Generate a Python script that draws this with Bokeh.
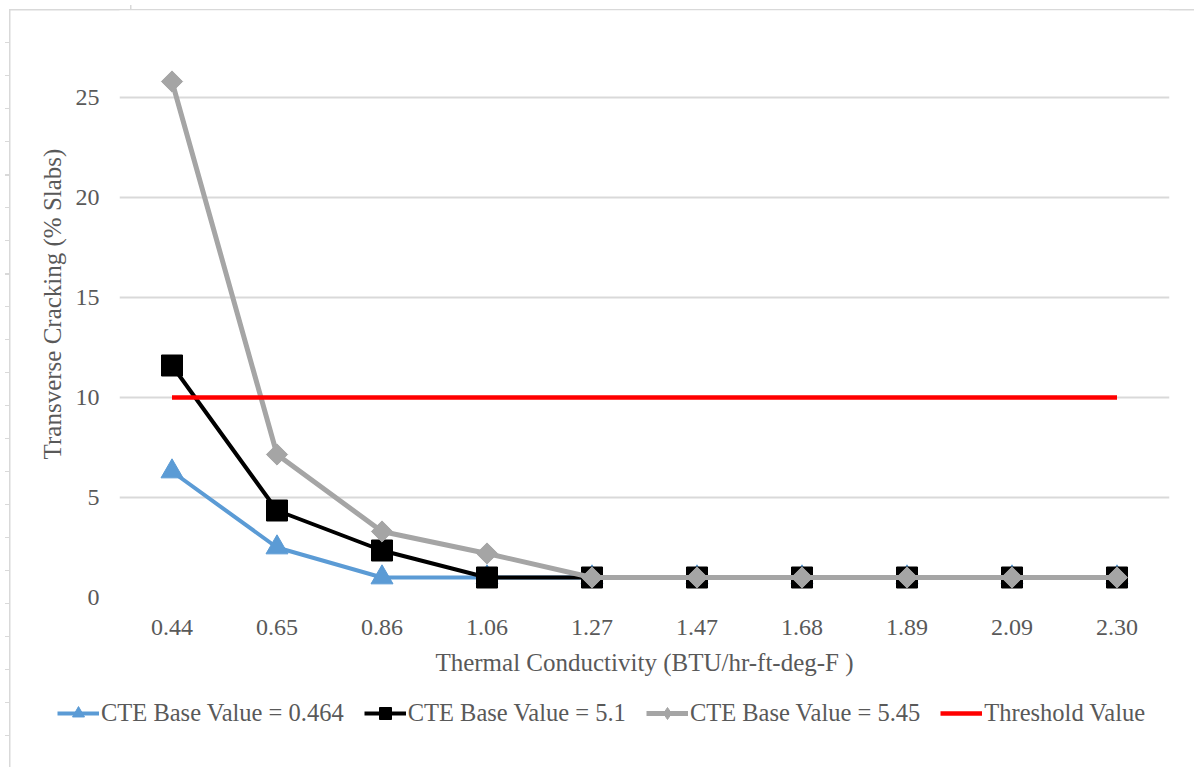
import math

from bokeh.plotting import figure
from bokeh.layouts import column
from bokeh.models import (FactorRange, Range1d, FixedTicker, Legend, LegendItem,
                          InlineStyleSheet)
from bokeh.embed import file_html
from bokeh.resources import INLINE

# Thermal conductivity steps (BTU/hr-ft-deg-F)
conductivity = ["0.44", "0.65", "0.86", "1.06", "1.27",
                "1.47", "1.68", "1.89", "2.09", "2.30"]

# Transverse cracking (% slabs) for each CTE base value
cte_0464 = [6.3, 2.5, 1.0, 1.0, 1.0, 1.0, 1.0, 1.0, 1.0, 1.0]
cte_51 = [11.6, 4.35, 2.35, 1.0, 1.0, 1.0, 1.0, 1.0, 1.0, 1.0]
cte_545 = [25.8, 7.15, 3.3, 2.2, 1.0, 1.0, 1.0, 1.0, 1.0, 1.0]
threshold = [10, 10, 10, 10, 10, 10, 10, 10, 10, 10]

y_ticks = [0, 5, 10, 15, 20, 25]

FONT = "Liberation Serif"
TEXT = "#595959"
GRID = "#D9D9D9"
BLUE = "#5B9BD5"
BLACK = "#000000"
GREY = "#A5A5A5"
RED = "#FF0000"

W = 1194
CHART_H = 690
LEGEND_H = 77

p = figure(width=W, height=CHART_H,
           x_range=FactorRange(factors=conductivity),
           y_range=Range1d(0, 29.35),
           output_backend="svg", toolbar_location=None,
           min_border_left=119, min_border_right=25,
           min_border_top=10, min_border_bottom=CHART_H - 597)
p.frame_align = False

p.outline_line_color = None
p.background_fill_color = "white"
p.border_fill_alpha = 0
p.xgrid.visible = False
p.ygrid.grid_line_color = GRID
p.ygrid.grid_line_width = 2

# axes
p.yaxis.ticker = FixedTicker(ticks=y_ticks)
for ax in (p.xaxis[0], p.yaxis[0]):
    ax.axis_line_color = None
    ax.major_tick_line_color = None
    ax.minor_tick_line_color = None
    ax.major_tick_out = 0
    ax.minor_tick_out = 0
    ax.major_label_text_font = FONT
    ax.major_label_text_font_size = "24px"
    ax.major_label_text_color = TEXT
    ax.axis_label_text_font = FONT
    ax.axis_label_text_font_size = "25px"
    ax.axis_label_text_color = TEXT
    ax.axis_label_text_font_style = "normal"

p.xaxis.axis_label = "Thermal Conductivity (BTU/hr-ft-deg-F )"
p.xaxis.major_label_standoff = 22
p.xaxis.axis_label_standoff = 11
p.yaxis.axis_label = "Transverse Cracking (% Slabs)"
p.yaxis.major_label_standoff = 20
p.yaxis.axis_label_standoff = 7

# series
l1 = p.line(conductivity, cte_0464, line_color=BLUE, line_width=4)
m1 = p.scatter(conductivity, cte_0464, marker="triangle", size=22,
               fill_color=BLUE, line_color=BLUE)
l2 = p.line(conductivity, cte_51, line_color=BLACK, line_width=4)
m2 = p.scatter(conductivity, cte_51, marker="square", size=21,
               fill_color=BLACK, line_color=BLACK)
l3 = p.line(conductivity, cte_545, line_color=GREY, line_width=5)
m3 = p.scatter(conductivity, cte_545, marker="square", size=15,
               angle=math.pi / 4, fill_color=GREY, line_color=GREY)
l4 = p.line(conductivity, threshold, line_color=RED, line_width=4.5)

# legend strip underneath the chart, centred on the whole chart area
lg = figure(width=W, height=LEGEND_H, x_range=Range1d(0, W),
            y_range=Range1d(0, LEGEND_H), output_backend="svg",
            toolbar_location=None, x_axis_location=None,
            y_axis_location=None, min_border=0)
lg.frame_align = False
lg.outline_line_color = None
lg.background_fill_alpha = 0
lg.border_fill_alpha = 0
lg.grid.visible = False

# key swatches only (a single NaN point, so nothing is plotted here)
nan = [float("nan")]
k1 = lg.line(nan, nan, line_color=BLUE, line_width=4)
s1 = lg.scatter(nan, nan, marker="triangle", size=22, fill_color=BLUE,
                line_color=BLUE)
k2 = lg.line(nan, nan, line_color=BLACK, line_width=4)
s2 = lg.scatter(nan, nan, marker="square", size=21, fill_color=BLACK,
                line_color=BLACK)
k3 = lg.line(nan, nan, line_color=GREY, line_width=5)
s3 = lg.scatter(nan, nan, marker="diamond", size=15,
                fill_color=GREY, line_color=GREY)
k4 = lg.line(nan, nan, line_color=RED, line_width=4.5)

legend = Legend(items=[
    LegendItem(label="CTE Base Value = 0.464", renderers=[k1, s1]),
    LegendItem(label="CTE Base Value = 5.1", renderers=[k2, s2]),
    LegendItem(label="CTE Base Value = 5.45", renderers=[k3, s3]),
    LegendItem(label="Threshold Value", renderers=[k4]),
], orientation="horizontal", location=(57, 39),
    label_text_font=FONT, label_text_font_size="24.5px", label_text_color=TEXT,
    glyph_width=42, glyph_height=30, label_standoff=2, spacing=20,
    padding=4, margin=0, border_line_color=None, background_fill_alpha=0)
lg.add_layout(legend, "center")

page = column(p, lg, spacing=0)

# page frame (top and left rules, with small marks down the left edge)
page.stylesheets = [InlineStyleSheet(css="""
:host {
  background-color: white;
  background-image:
    linear-gradient(#D9D9D9, #D9D9D9),
    linear-gradient(#D9D9D9, #D9D9D9),
    linear-gradient(#D9D9D9, #D9D9D9),
    repeating-linear-gradient(to bottom, #D9D9D9 0px, #D9D9D9 1.5px,
                              transparent 1.5px, transparent 33px);
  background-size: calc(100% - 9px) 1.5px, 1.5px calc(100% - 9px),
                   1.5px 4px, 4px calc(100% - 42px);
  background-position: 9px 9px, 9px 9px, 129.5px 5px, 5px 42px;
  background-repeat: no-repeat;
}
""")]

open("out.html", "w").write(file_html(page, INLINE))
